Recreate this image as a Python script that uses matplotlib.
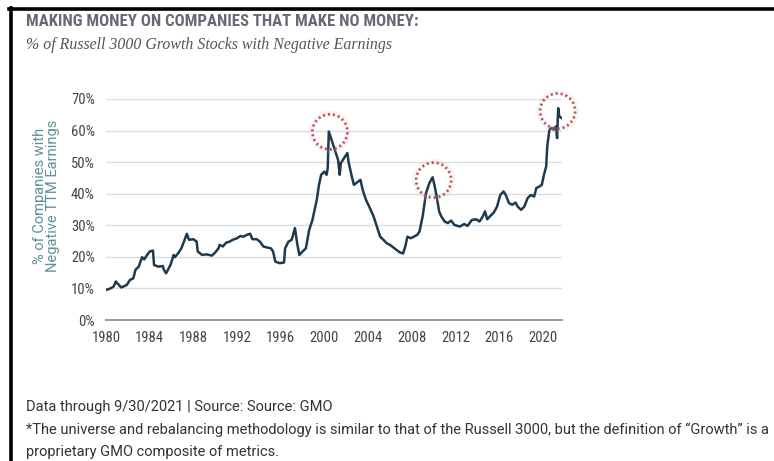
import matplotlib
matplotlib.use("Agg")
import matplotlib.pyplot as plt
from matplotlib import font_manager
from matplotlib.lines import Line2D
from matplotlib.patches import Ellipse
from matplotlib.ticker import FuncFormatter

years = [1980.0, 1980.4, 1980.7, 1980.9, 1981.1, 1981.4, 1981.9, 1982.2, 1982.5, 1982.7,
         1983.0, 1983.3, 1983.5, 1983.7, 1984.0, 1984.3, 1984.4, 1984.8, 1985.2, 1985.3,
         1985.5, 1985.9, 1986.2, 1986.3, 1986.6, 1986.9, 1987.2, 1987.4, 1987.6, 1988.0,
         1988.3, 1988.4, 1988.8, 1989.2, 1989.7, 1990.0, 1990.3, 1990.4, 1990.7, 1991.0,
         1991.3, 1991.6, 1992.0, 1992.3, 1992.6, 1992.9, 1993.2, 1993.4, 1993.8, 1994.1,
         1994.4, 1994.7, 1995.1, 1995.3, 1995.5, 1995.9, 1996.3, 1996.4, 1996.7, 1997.0,
         1997.3, 1997.5, 1997.7, 1998.0, 1998.3, 1998.6, 1998.9, 1999.1, 1999.3, 1999.5,
         1999.7, 2000.0, 2000.2, 2000.3, 2000.4, 2000.6, 2000.9, 2001.1, 2001.25, 2001.4,
         2001.5, 2001.8, 2002.1, 2002.2, 2002.5, 2002.7, 2003.0, 2003.3, 2003.5, 2003.8,
         2004.1, 2004.5, 2004.8, 2005.1, 2005.4, 2005.7, 2006.0, 2006.3, 2006.6, 2006.9,
         2007.2, 2007.4, 2007.6, 2007.9, 2008.2, 2008.5, 2008.7, 2009.0, 2009.3, 2009.6,
         2009.9, 2010.1, 2010.3, 2010.5, 2010.7, 2011.0, 2011.3, 2011.6, 2011.9, 2012.4,
         2012.8, 2013.1, 2013.5, 2013.9, 2014.2, 2014.5, 2014.7, 2014.9, 2015.2, 2015.5,
         2015.8, 2016.1, 2016.4, 2016.6, 2016.9, 2017.2, 2017.5, 2017.7, 2018.0, 2018.3,
         2018.6, 2018.9, 2019.2, 2019.4, 2019.7, 2019.9, 2020.1, 2020.3, 2020.4, 2020.6,
         2020.8, 2021.0, 2021.2, 2021.3, 2021.4, 2021.5, 2021.7]
pct_negative = [9.5, 10.0, 10.6, 12.2, 11.4, 10.3, 11.1, 12.7, 13.2, 15.9,
                16.9, 19.9, 19.2, 20.3, 21.7, 22.0, 17.4, 16.9, 17.1, 15.9,
                14.8, 17.4, 20.6, 19.9, 21.1, 22.7, 25.4, 27.3, 25.4, 25.6,
                24.8, 21.7, 20.6, 20.8, 20.4, 21.4, 22.7, 23.8, 23.3, 24.5,
                24.8, 25.4, 25.9, 26.6, 26.4, 27.0, 27.3, 25.6, 25.6, 24.8,
                23.3, 23.0, 22.7, 21.7, 18.5, 18.0, 18.2, 22.7, 24.8, 25.4,
                29.1, 24.3, 20.6, 21.7, 22.7, 28.5, 31.7, 34.9, 38.1, 42.8,
                46.0, 47.0, 46.0, 48.1, 59.7, 57.6, 54.4, 52.3, 50.7, 46.0,
                49.7, 51.3, 52.9, 50.2, 45.5, 42.8, 43.6, 44.4, 41.2, 38.1,
                35.9, 32.8, 29.6, 26.4, 25.4, 24.3, 23.8, 23.0, 22.2, 21.4,
                21.1, 23.3, 26.4, 25.9, 26.4, 27.0, 28.0, 33.0, 40.2, 43.3,
                45.2, 42.3, 38.6, 34.4, 32.8, 31.2, 30.7, 31.5, 30.1, 29.6,
                30.4, 29.8, 31.7, 31.9, 31.2, 32.8, 34.4, 31.9, 33.0, 34.0,
                35.9, 39.6, 40.7, 39.6, 37.0, 36.5, 37.2, 35.9, 34.9, 35.9,
                38.6, 39.6, 39.1, 41.8, 42.3, 42.8, 46.0, 48.6, 55.0, 60.3,
                60.8, 60.3, 61.3, 57.6, 67.1, 64.5, 64.0]

x_ticks = [1980, 1984, 1988, 1992, 1996, 2000, 2004, 2008, 2012, 2016, 2020]
y_ticks = [0, 10, 20, 30, 40, 50, 60, 70]

# peaks ringed on the chart (year, percent)
peak_years = [2000.5, 2010.0, 2021.35]
peak_pcts = [59.6, 44.3, 66.2]


def pick_font(names):
    available = {f.name for f in font_manager.fontManager.ttflist}
    for n in names:
        if n in available:
            return n
    return "DejaVu Sans"


narrow = pick_font(["Roboto Condensed", "Liberation Sans Narrow", "Roboto"])
plain = pick_font(["Roboto", "Liberation Sans"])
serif = pick_font(["Liberation Serif", "DejaVu Serif"])

fig = plt.figure(figsize=(7.74, 4.61), dpi=100)
ax = fig.add_axes([106 / 774, 141 / 461, 456 / 774, 221 / 461])

ax.plot(years, pct_negative, color="#1e3a4e", lw=1.8, zorder=3)

ax.set_xlim(1980, 2021.75)
ax.set_ylim(0, 70)
ax.set_xticks(x_ticks)
ax.set_yticks(y_ticks)
ax.yaxis.set_major_formatter(FuncFormatter(lambda v, p: f"{v:.0f}%"))
ax.tick_params(length=0, labelsize=10.5, labelcolor="#444444", pad=8)
for lab in ax.get_xticklabels() + ax.get_yticklabels():
    lab.set_fontfamily(narrow)
ax.grid(axis="y", color="#d6dee3", lw=1.0)
ax.set_axisbelow(True)
for s in ["top", "right", "left"]:
    ax.spines[s].set_visible(False)
ax.spines["bottom"].set_color("#8d9ca6")
ax.spines["bottom"].set_linewidth(1.4)

ax.set_ylabel("% of Companies with\nNegative TTM Earnings", color="#5e8f9b",
              fontsize=10.5, family=plain, linespacing=0.95, labelpad=4)
ax.yaxis.set_label_coords(-0.10, 0.56)

# dotted rings around the peaks, with a soft grey halo
sx = 456 / (2021.75 - 1980)
sy = 221 / 70
r_px = 17.5
for px_, py_ in zip(peak_years, peak_pcts):
    halo = Ellipse((px_, py_), 2 * (r_px + 1.5) / sx, 2 * (r_px + 1.5) / sy,
                   fill=False, ec="#cccccc", lw=3.5, alpha=0.18, clip_on=False, zorder=4)
    ax.add_patch(halo)
    ring = Ellipse((px_, py_), 2 * r_px / sx, 2 * r_px / sy, fill=False,
                   ec="#c24a4a", lw=2.0, ls=(0, (0.7, 1.1)), clip_on=False, zorder=5)
    ax.add_patch(ring)

fig.text(26 / 774, 1 - 21 / 461, "MAKING MONEY ON COMPANIES THAT MAKE NO MONEY:",
         fontsize=12.1, fontweight="bold", color="#6a6776", family=narrow, va="center")
fig.text(26 / 774, 1 - 45 / 461, "% of Russell 3000 Growth Stocks with Negative Earnings",
         fontsize=11.4, style="italic", color="#555555", family=serif, va="center")

fig.text(26 / 774, 1 - 407 / 461, "Data through 9/30/2021 | Source: Source: GMO",
         fontsize=10.5, color="#333333", family=plain, va="center")
fig.text(26 / 774, 1 - 430 / 461,
         "*The universe and rebalancing methodology is similar to that of the Russell 3000, "
         "but the definition of \u201cGrowth\u201d is a",
         fontsize=10.5, color="#333333", family=plain, va="center")
fig.text(26 / 774, 1 - 452 / 461, "proprietary GMO composite of metrics.",
         fontsize=10.5, color="#333333", family=plain, va="center")

# frame edges along the top and left
fig.add_artist(Line2D([10.5 / 774, 10.5 / 774], [0, 1 - 8 / 461], color="black", lw=2.6))
fig.add_artist(Line2D([9 / 774, 1], [1 - 9.5 / 461, 1 - 9.5 / 461], color="black", lw=2.6))

fig.savefig("out.png", dpi=100)
